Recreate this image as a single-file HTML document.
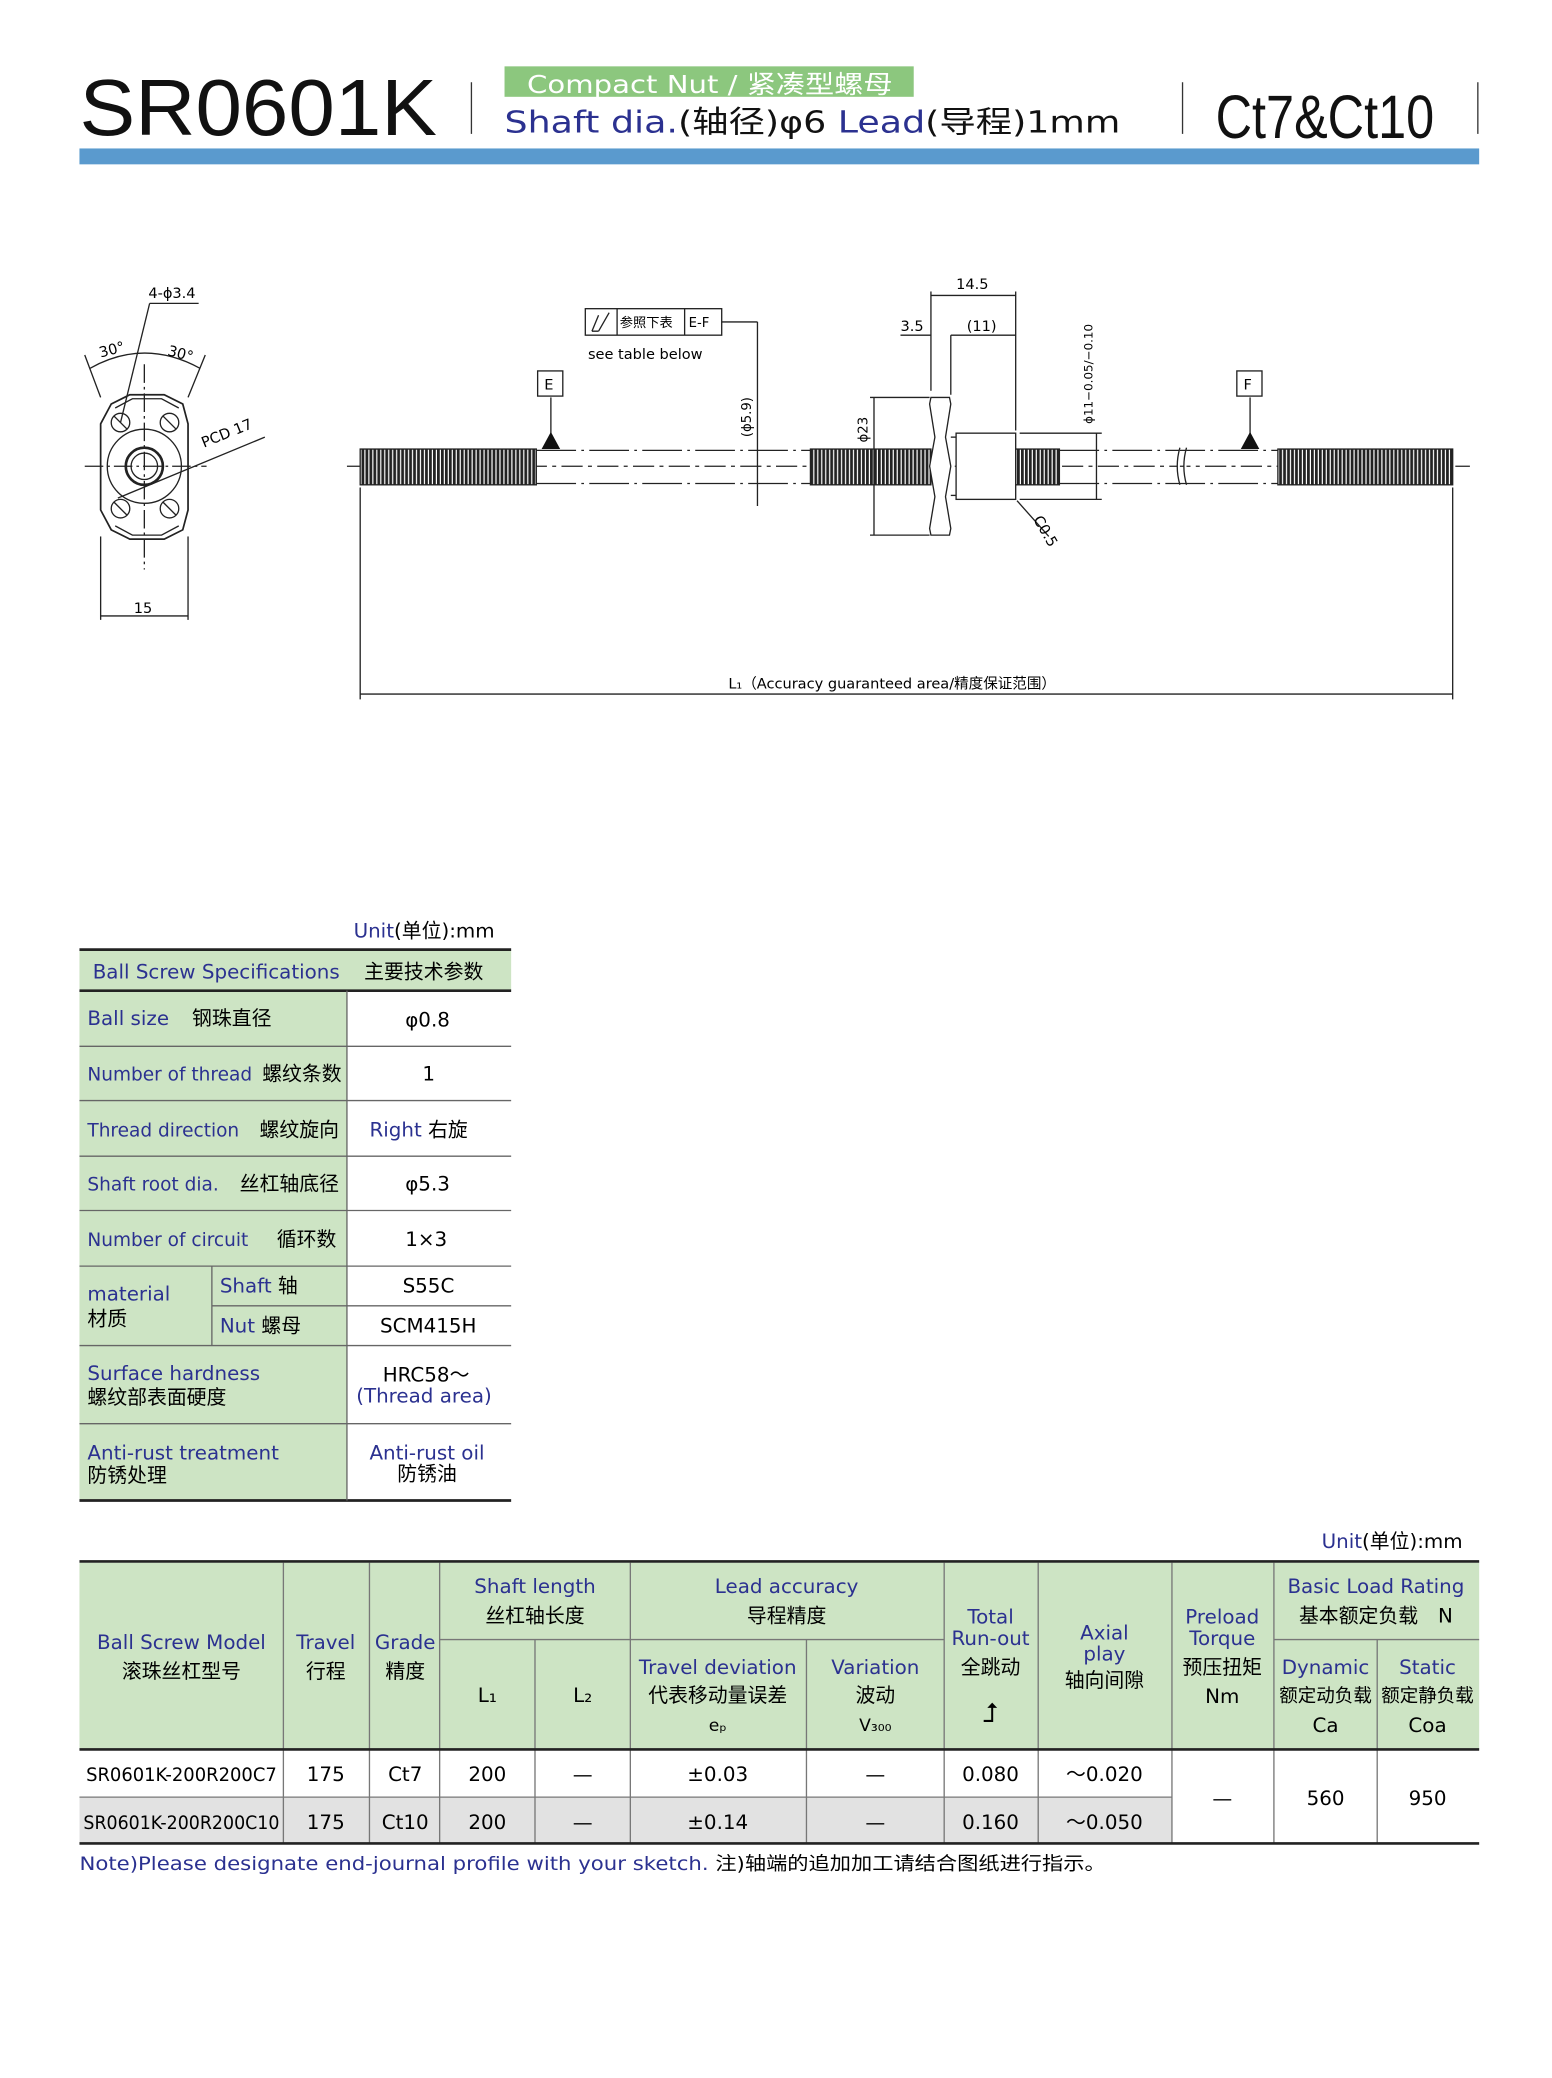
<!DOCTYPE html>
<html><head><meta charset="utf-8"><style>
html,body{margin:0;padding:0;background:#fff;width:1552px;height:2078px;overflow:hidden}
svg{display:block}
text{font-family:"DejaVu Sans","Noto Sans CJK SC",sans-serif}
.b{fill:#2b3190}.k{fill:#111}
</style></head><body>
<svg width="1552" height="2078" viewBox="0 0 1172 1569" xmlns="http://www.w3.org/2000/svg">
<defs>
<pattern id="th" width="3" height="10" patternUnits="userSpaceOnUse"><rect width="3" height="10" fill="#fff"/><rect width="2.1" height="10" fill="#222"/></pattern>
</defs>
<!-- header -->
<text x="60" y="102" font-size="60" class="k" style="font-family:'Liberation Sans',sans-serif" textLength="270" lengthAdjust="spacingAndGlyphs">SR0601K</text>
<line x1="356" y1="62" x2="356" y2="101" stroke="#333" stroke-width="1"/>
<rect x="381" y="50" width="309" height="23" fill="#8cc77e"/>
<text x="398" y="70" font-size="19" fill="#fff" textLength="276" lengthAdjust="spacingAndGlyphs">Compact Nut / 紧凑型螺母</text>
<text x="381" y="100" font-size="23" class="b" textLength="465" lengthAdjust="spacingAndGlyphs">Shaft dia.<tspan class="k">(轴径)φ6</tspan>   Lead<tspan class="k">(导程)1mm</tspan></text>
<line x1="893" y1="62" x2="893" y2="101" stroke="#333"/>
<line x1="1116" y1="62" x2="1116" y2="101" stroke="#333"/>
<text x="918" y="104" font-size="46" class="k" style="font-family:'Liberation Sans',sans-serif" textLength="165" lengthAdjust="spacingAndGlyphs">Ct7&amp;Ct10</text>
<rect x="60" y="112" width="1057" height="12" fill="#5a9ace"/>

<!-- end view -->
<g stroke="#222" fill="none" stroke-width="1">
<path d="M84 305 L98 298 L124 298 L138 305 L142 320 L142 385 L138 400 L124 407 L98 407 L84 400 L76 385 L76 320 Z" stroke-width="1.3"/>
<path d="M87 308 L100 301 L122 301 L135 308"/><path d="M87 397 L100 404 L122 404 L135 397"/>
<circle cx="109" cy="352" r="28"/><circle cx="109" cy="352" r="14" stroke-width="2"/><circle cx="109" cy="352" r="10"/>
<circle cx="91" cy="319" r="7"/><circle cx="128" cy="319" r="7"/><circle cx="91" cy="384" r="7"/><circle cx="128" cy="384" r="7"/>
<line x1="86" y1="314" x2="96" y2="324"/><line x1="123" y1="314" x2="133" y2="324"/><line x1="86" y1="379" x2="96" y2="389"/><line x1="123" y1="379" x2="133" y2="389"/>
<line x1="64" y1="352" x2="156" y2="352" stroke-dasharray="14 3 2 3"/>
<line x1="109" y1="275" x2="109" y2="430" stroke-dasharray="14 3 2 3"/>
<line x1="91" y1="319" x2="113" y2="229"/><line x1="113" y1="229" x2="150" y2="229"/>
<line x1="89" y1="376" x2="200" y2="330"/>
<line x1="76" y1="300" x2="64" y2="268"/><line x1="142" y1="300" x2="155" y2="268"/>
<path d="M68 278 Q109 255 151 278"/>
<line x1="76" y1="405" x2="76" y2="468"/><line x1="142" y1="405" x2="142" y2="468"/>
<line x1="76" y1="465" x2="142" y2="465"/>
</g>
<text x="112" y="225" font-size="11">4-ϕ3.4</text>
<text x="76" y="270" font-size="11" transform="rotate(-15 76 270)">30°</text>
<text x="126" y="268" font-size="11" transform="rotate(15 126 268)">30°</text>
<text x="154" y="338" font-size="11" transform="rotate(-22 154 338)">PCD 17</text>
<text x="101" y="463" font-size="11">15</text>

<!-- shaft -->
<g stroke="#222" fill="none" stroke-width="1">
<line x1="262" y1="352" x2="1110" y2="352" stroke-dasharray="16 4 3 4"/>
<rect x="272" y="339" width="133" height="27" fill="url(#th)"/>
<rect x="612" y="339" width="91" height="27" fill="url(#th)"/>
<rect x="767" y="339" width="33" height="27" fill="url(#th)"/>
<rect x="965" y="339" width="132" height="27" fill="url(#th)"/>
<line x1="405" y1="340" x2="612" y2="340" stroke-dasharray="30 4 2 4"/><line x1="405" y1="365" x2="612" y2="365" stroke-dasharray="30 4 2 4"/>
<line x1="800" y1="340" x2="965" y2="340" stroke-dasharray="30 4 2 4"/><line x1="800" y1="365" x2="965" y2="365" stroke-dasharray="30 4 2 4"/>
<path d="M891 338 Q887 352 891 366 M896 338 Q892 352 896 366" fill="#fff"/>
<path d="M703 300 L717 300 L718 305 L714 330 L718 352 L714 375 L718 399 L717 404 L703 404 L702 399 L706 375 L702 352 L706 330 L702 305 Z" fill="#fff"/>
<rect x="722" y="327" width="45" height="50" fill="#fff"/>
<line x1="718" y1="330" x2="722" y2="330"/><line x1="718" y1="374" x2="722" y2="374"/>
<line x1="703" y1="295" x2="703" y2="220"/><line x1="767" y1="325" x2="767" y2="220"/>
<line x1="703" y1="223" x2="767" y2="223"/>
<line x1="680" y1="253" x2="703" y2="253"/><line x1="718" y1="253" x2="767" y2="253"/><line x1="718" y1="253" x2="718" y2="298"/>
<line x1="657" y1="300" x2="702" y2="300"/><line x1="657" y1="404" x2="702" y2="404"/><line x1="660" y1="300" x2="660" y2="404"/>
<line x1="770" y1="327" x2="832" y2="327"/><line x1="770" y1="377" x2="832" y2="377"/><line x1="828" y1="327" x2="828" y2="377"/>
<line x1="768" y1="378" x2="792" y2="405"/>
<line x1="545" y1="243" x2="572" y2="243"/><line x1="572" y1="243" x2="572" y2="382"/>
<line x1="416" y1="300" x2="416" y2="330"/><line x1="944" y1="300" x2="944" y2="330"/>
<line x1="272" y1="368" x2="272" y2="528"/><line x1="1097" y1="368" x2="1097" y2="528"/>
<line x1="272" y1="524" x2="1097" y2="524"/>
<rect x="442" y="233" width="103" height="20"/><line x1="466" y1="233" x2="466" y2="253"/><line x1="517" y1="233" x2="517" y2="253"/>
<path d="M447 250 L452 238 M452 250 L460 236 M447 250 L452 250"/>
</g>
<g fill="#111"><path d="M409 339 L423 339 L416 326Z"/><path d="M937 339 L951 339 L944 326Z"/></g>
<rect x="406" y="280" width="19" height="19" fill="#fff" stroke="#222"/><text x="411" y="294" font-size="11">E</text>
<rect x="934" y="280" width="19" height="19" fill="#fff" stroke="#222"/><text x="939" y="294" font-size="11">F</text>
<text x="468" y="247" font-size="10">参照下表</text><text x="520" y="247" font-size="10">E-F</text>
<text x="444" y="271" font-size="11">see table below</text>
<text x="722" y="218" font-size="11">14.5</text>
<text x="680" y="250" font-size="11">3.5</text><text x="730" y="250" font-size="11">(11)</text>
<text x="567" y="330" font-size="10" transform="rotate(-90 567 330)">(ϕ5.9)</text>
<text x="655" y="334" font-size="10" transform="rotate(-90 655 334)">ϕ23</text>
<text x="825" y="320" font-size="9" transform="rotate(-90 825 320)">ϕ11−0.05/−0.10</text>
<text x="780" y="392" font-size="11" transform="rotate(60 780 392)">C0.5</text>
<text x="550" y="520" font-size="11">L₁（Accuracy guaranteed area/精度保证范围）</text>

<!-- spec table -->
<text x="267" y="708" font-size="15"><tspan class="b">Unit</tspan>(单位):mm</text>
<rect x="60" y="718" width="326" height="30" fill="#cde4c4"/>
<rect x="60" y="748" width="202" height="385" fill="#cde4c4"/>
<g stroke="#222" stroke-width="2"><line x1="60" y1="717" x2="386" y2="717"/><line x1="60" y1="748" x2="386" y2="748"/><line x1="60" y1="1133" x2="386" y2="1133"/></g>
<g stroke="#666" stroke-width="1">
<line x1="262" y1="748" x2="262" y2="1133"/><line x1="160" y1="956" x2="160" y2="1016"/>
<line x1="60" y1="790" x2="386" y2="790"/><line x1="60" y1="831" x2="386" y2="831"/><line x1="60" y1="873" x2="386" y2="873"/><line x1="60" y1="914" x2="386" y2="914"/><line x1="60" y1="956" x2="386" y2="956"/><line x1="160" y1="986" x2="386" y2="986"/><line x1="60" y1="1016" x2="386" y2="1016"/><line x1="60" y1="1075" x2="386" y2="1075"/>
</g>
<g font-size="15">
<text x="70" y="739" class="b">Ball Screw Specifications</text><text x="275" y="739">主要技术参数</text>
<text x="66" y="774" class="b">Ball size</text><text x="145" y="774">钢珠直径</text><text x="306" y="775">φ0.8</text>
<text x="66" y="816" class="b" font-size="14">Number of thread</text><text x="198" y="816">螺纹条数</text><text x="319" y="816">1</text>
<text x="66" y="858" class="b" font-size="14">Thread direction</text><text x="196" y="858">螺纹旋向</text><text x="279" y="858"><tspan class="b">Right</tspan>   右旋</text>
<text x="66" y="899" class="b" font-size="14">Shaft root dia.</text><text x="181" y="899">丝杠轴底径</text><text x="306" y="899">φ5.3</text>
<text x="66" y="941" class="b" font-size="14">Number of circuit</text><text x="209" y="941">循环数</text><text x="306" y="941">1×3</text>
<text x="66" y="982" class="b">material</text><text x="66" y="1001">材质</text>
<text x="166" y="976"><tspan class="b">Shaft</tspan> 轴</text><text x="304" y="976">S55C</text>
<text x="166" y="1006"><tspan class="b">Nut</tspan> 螺母</text><text x="287" y="1006">SCM415H</text>
<text x="66" y="1042" class="b">Surface hardness</text><text x="66" y="1060">螺纹部表面硬度</text>
<text x="289" y="1043">HRC58～</text><text x="269" y="1059" class="b">(Thread area)</text>
<text x="66" y="1102" class="b">Anti-rust treatment</text><text x="66" y="1119">防锈处理</text>
<text x="279" y="1102" class="b">Anti-rust oil</text><text x="300" y="1118">防锈油</text>
</g>

<!-- bottom table -->
<text x="998" y="1169" font-size="15"><tspan class="b">Unit</tspan>(单位):mm</text>
<rect x="60" y="1180" width="1057" height="141" fill="#cde4c4"/>
<rect x="60" y="1357" width="825" height="35" fill="#e2e2e2"/>
<g stroke="#777" stroke-width="1">
<line x1="214" y1="1180" x2="214" y2="1392"/><line x1="279" y1="1180" x2="279" y2="1392"/><line x1="332" y1="1180" x2="332" y2="1392"/>
<line x1="404" y1="1238" x2="404" y2="1392"/><line x1="476" y1="1180" x2="476" y2="1392"/><line x1="609" y1="1238" x2="609" y2="1392"/>
<line x1="713" y1="1180" x2="713" y2="1392"/><line x1="784" y1="1180" x2="784" y2="1392"/><line x1="885" y1="1180" x2="885" y2="1392"/>
<line x1="962" y1="1180" x2="962" y2="1392"/><line x1="1040" y1="1238" x2="1040" y2="1392"/>
<line x1="332" y1="1238" x2="713" y2="1238"/><line x1="962" y1="1238" x2="1117" y2="1238"/>
<line x1="60" y1="1357" x2="885" y2="1357"/>
</g>
<g stroke="#222" stroke-width="2"><line x1="60" y1="1179" x2="1117" y2="1179"/><line x1="60" y1="1321" x2="1117" y2="1321"/><line x1="60" y1="1392" x2="1117" y2="1392"/></g>
<g font-size="15" text-anchor="middle">
<text x="137" y="1245" class="b">Ball Screw Model</text><text x="137" y="1267">滚珠丝杠型号</text>
<text x="246" y="1245" class="b">Travel</text><text x="246" y="1267">行程</text>
<text x="306" y="1245" class="b">Grade</text><text x="306" y="1267">精度</text>
<text x="404" y="1203" class="b">Shaft length</text><text x="404" y="1225">丝杠轴长度</text>
<text x="594" y="1203" class="b">Lead accuracy</text><text x="594" y="1225">导程精度</text>
<text x="368" y="1285">L₁</text><text x="440" y="1285">L₂</text>
<text x="542" y="1264" class="b">Travel deviation</text><text x="542" y="1285">代表移动量误差</text><text x="542" y="1307" font-size="13">eₚ</text>
<text x="661" y="1264" class="b">Variation</text><text x="661" y="1285">波动</text><text x="661" y="1307" font-size="13">V₃₀₀</text>
<text x="748" y="1226" class="b">Total</text><text x="748" y="1242" class="b">Run-out</text><text x="748" y="1264">全跳动</text><text x="748" y="1300" font-size="20">⮥</text>
<text x="834" y="1238" class="b">Axial</text><text x="834" y="1254" class="b">play</text><text x="834" y="1274">轴向间隙</text>
<text x="923" y="1226" class="b">Preload</text><text x="923" y="1242" class="b">Torque</text><text x="923" y="1264">预压扭矩</text><text x="923" y="1286">Nm</text>
<text x="1039" y="1203" class="b">Basic Load Rating</text><text x="1039" y="1225">基本额定负载　N</text>
<text x="1001" y="1264" class="b">Dynamic</text><text x="1001" y="1285" font-size="14">额定动负载</text><text x="1001" y="1308">Ca</text>
<text x="1078" y="1264" class="b">Static</text><text x="1078" y="1285" font-size="14">额定静负载</text><text x="1078" y="1308">Coa</text>
<text x="137" y="1345" font-size="14" textLength="144" lengthAdjust="spacingAndGlyphs">SR0601K-200R200C7</text><text x="246" y="1345">175</text><text x="306" y="1345">Ct7</text><text x="368" y="1345">200</text><text x="440" y="1345">—</text><text x="542" y="1345">±0.03</text><text x="661" y="1345">—</text><text x="748" y="1345">0.080</text><text x="834" y="1345">～0.020</text>
<text x="137" y="1381" font-size="14" textLength="148" lengthAdjust="spacingAndGlyphs">SR0601K-200R200C10</text><text x="246" y="1381">175</text><text x="306" y="1381">Ct10</text><text x="368" y="1381">200</text><text x="440" y="1381">—</text><text x="542" y="1381">±0.14</text><text x="661" y="1381">—</text><text x="748" y="1381">0.160</text><text x="834" y="1381">～0.050</text>
<text x="923" y="1363">—</text><text x="1001" y="1363">560</text><text x="1078" y="1363">950</text>
</g>
<text x="60" y="1412" font-size="14" textLength="775" lengthAdjust="spacingAndGlyphs"><tspan class="b">Note)Please designate end-journal profile with your sketch.</tspan>   注)轴端的追加加工请结合图纸进行指示。</text>
</svg>
</body></html>
